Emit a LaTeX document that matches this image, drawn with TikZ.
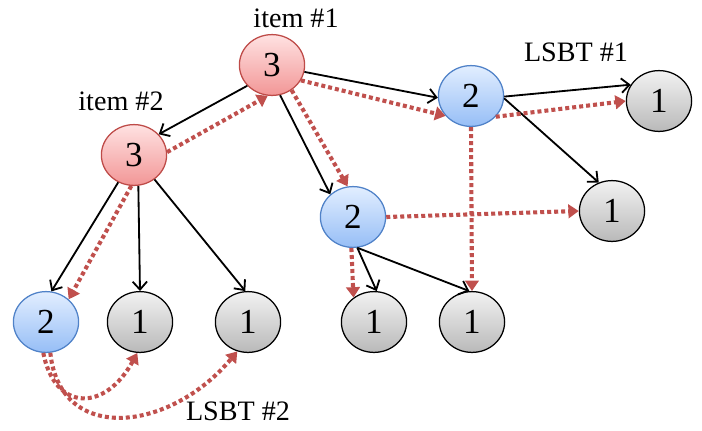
\documentclass[tikz,border=0pt]{standalone}
\usepackage{fontspec}
\setmainfont{Liberation Serif}
\usepackage{xcolor}
\usepackage{tikz}
\usetikzlibrary{arrows.meta,shapes.geometric}
\definecolor{itemtop}{RGB}{255,226,226}
\definecolor{itembot}{RGB}{242,150,150}
\definecolor{itemline}{RGB}{190,75,72}
\definecolor{lsbttop}{RGB}{226,238,255}
\definecolor{lsbtbot}{RGB}{150,190,246}
\definecolor{lsbtline}{RGB}{80,130,200}
\definecolor{leaftop}{RGB}{242,242,242}
\definecolor{leafbot}{RGB}{185,185,185}
\definecolor{walkred}{RGB}{192,80,77}

\begin{document}
\begin{tikzpicture}[x=0.025cm, y=-0.025cm,
  every node/.style={font=\fontsize{20}{24}\selectfont},
  cnt/.style={ellipse, minimum width=1.63cm, minimum height=1.52cm, inner sep=0pt, line width=0.9pt, font=\fontsize{25}{30}\selectfont},
  itemnode/.style={cnt, draw=itemline, top color=itemtop, bottom color=itembot},
  lsbtnode/.style={cnt, draw=lsbtline, top color=lsbttop, bottom color=lsbtbot},
  leafnode/.style={cnt, draw=black, top color=leaftop, bottom color=leafbot},
  edgeline/.style={line width=1.3pt, -{Straight Barb[length=0.2cm,width=0.36cm,line width=1.3pt]}},
  dotpath/.style={walkred, line width=2.9pt, dash pattern=on 0.1cm off 0.075cm, -{Triangle[length=0.26cm,width=0.34cm]}}]
\useasboundingbox (0,0) rectangle (702,430);

% counters
\node[itemnode] (a) at (272,65) {3};
\node[itemnode] (b) at (134,155) {3};
\node[lsbtnode] (c) at (471,96) {2};
\node[lsbtnode] (f) at (353,217) {2};
\node[lsbtnode] (i) at (46,322) {2};
\node[leafnode] (d) at (659,101) {1};
\node[leafnode] (e) at (612,211) {1};
\node[leafnode] (g) at (374,322) {1};
\node[leafnode] (h) at (472,322) {1};
\node[leafnode] (j) at (140,322) {1};
\node[leafnode] (k) at (248,322) {1};

% labels
\node (itemone) at (296,18) {item \#1};
\node (itemtwo) at (121,101) {item \#2};
\node (lsbtone) at (576,52) {LSBT \#1};
\node (lsbttwo) at (238,411) {LSBT \#2};

% tree edges
\draw[edgeline] (a.220) -- (b.40);
\draw[edgeline] (a.-12) -- (c.183);
\draw[edgeline] (a.-75) -- (f.135);
\draw[edgeline] (c.-1) -- (d.150);
\draw[edgeline] (c.-4) -- (e.115);
\draw[edgeline] (b.240) -- (i.80);
\draw[edgeline] (b.-82) -- (j.90);
\draw[edgeline] (b.-50) -- (k.95);
\draw[edgeline] (f.-82) -- (g.85);
\draw[edgeline] (f.-82) -- (h.95);

% dotted walks
\draw[dotpath] (b.5) -- (a.262);
\draw[dotpath] (a.-28) -- (c.218);
\draw[dotpath] (a.-52) -- (f.100);
\draw[dotpath] (b.-95) -- (i.45);
\draw[dotpath] (c.-40) -- (d.180);
\draw[dotpath] (f.0) -- (e.180);
\draw[dotpath] (c.-90) -- (h.90);
\draw[dotpath] (f.-93) -- (g.130);
\draw[dotpath] (i.-95) .. controls (55,412) and (105,412) .. (j.-95);
\draw[dotpath] (i.-82) .. controls (60,445) and (170,432) .. (k.250);
\end{tikzpicture}
\end{document}
